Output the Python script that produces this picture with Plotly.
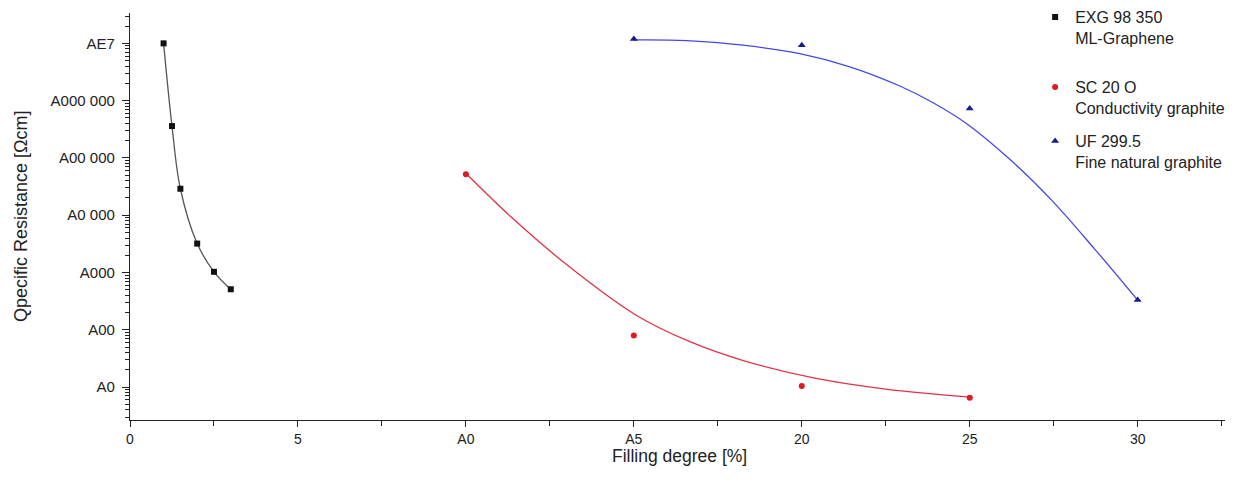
import plotly.graph_objects as go

# ---- data ----
exg_x = [1.0, 1.25, 1.5, 2.0, 2.5, 3.0]
exg_y = [1.0e7, 3.6e5, 2.9e4, 3.2e3, 1.03e3, 5.1e2]

sc_x = [10, 15, 20, 25]
sc_y = [5.2e4, 80, 10.5, 6.5]
sc_fit_x = [10.02, 11.35, 12.95, 15.07, 16.67, 18.26, 20.39, 22.5, 25.09]
sc_fit_y = [5.25e4, 9.3e3, 1.45e3, 1.8e2, 62, 29, 14.3, 9.2, 6.6]

uf_x = [15, 20, 25, 30]
uf_y = [1.19e7, 9.3e6, 7.3e5, 3.3e2]
uf_fit_x = [15.0, 16.57, 18.25, 19.94, 21.43, 22.92, 23.91, 24.9, 26.2, 27.45, 28.72, 30.0]
uf_fit_y = [1.15e7, 1.12e7, 9.3e6, 6.6e6, 3.9e6, 1.8e6, 9.2e5, 4.0e5, 9.4e4, 1.8e4, 2.57e3, 3.3e2]

x_tickvals = [0, 5, 10, 15, 20, 25, 30]
x_ticktext = ["0", "5", "A0", "A5", "20", "25", "30"]
x_minor_vals = [2.5, 7.5, 12.5, 17.5, 22.5, 27.5, 32.5]
y_tickvals = [10, 100, 1000, 1e4, 1e5, 1e6, 1e7]
y_ticktext = ["A0", "A00", "A000", "A0 000", "A00 000", "A000 000", "AE7"]
y_minor_vals = [m * d for d in [1, 10, 100, 1000, 1e4, 1e5, 1e6, 1e7] for m in range(2, 10)]

names = ["EXG 98 350<br>ML-Graphene",
         "SC 20 O<br>Conductivity graphite",
         "UF 299.5<br>Fine natural graphite"]

BLACK = "#111111"
RED_M = "rgb(225,25,35)"
RED_L = "rgb(225,50,70)"
BLUE_M = "rgb(25,25,150)"
BLUE_L = "rgb(70,70,235)"
TXT = "#222222"

fig = go.Figure()

# fit curves
fig.add_trace(go.Scatter(x=exg_x, y=exg_y, mode="lines", line=dict(color="#555555", width=1.3, shape="spline"),
                         showlegend=False, hoverinfo="skip"))
fig.add_trace(go.Scatter(x=sc_fit_x, y=sc_fit_y, mode="lines", line=dict(color=RED_L, width=1.3, shape="spline"),
                         showlegend=False, hoverinfo="skip"))
fig.add_trace(go.Scatter(x=uf_fit_x, y=uf_fit_y, mode="lines", line=dict(color=BLUE_L, width=1.3, shape="spline"),
                         showlegend=False, hoverinfo="skip"))

# data points
fig.add_trace(go.Scatter(x=exg_x, y=exg_y, mode="markers", name=names[0], legend="legend",
                         marker=dict(symbol="square", size=6, color=BLACK)))
fig.add_trace(go.Scatter(x=sc_x, y=sc_y, mode="markers", name=names[1], legend="legend2",
                         marker=dict(symbol="circle", size=6, color=RED_M)))
fig.add_trace(go.Scatter(x=uf_x, y=uf_y, mode="markers", name=names[2], legend="legend3",
                         marker=dict(symbol="triangle-up", size=7, color=BLUE_M)))

leg_common = dict(xanchor="left", yanchor="top", bgcolor="rgba(0,0,0,0)",
                  font=dict(size=16, color=TXT, family="Liberation Sans, Arial, sans-serif"),
                  valign="top", itemwidth=30)

# plot area: x 130..1225, y 13..420 in the window (page body adds 8px offset)
fig.update_layout(
    width=1235, height=478,
    margin=dict(l=122, r=18, t=5, b=66, autoexpand=False),
    paper_bgcolor="white", plot_bgcolor="white",
    font=dict(family="Liberation Sans, Arial, sans-serif", color=TXT, size=14),
    legend=dict(x=0.8266, y=1.032, **leg_common),
    legend2=dict(x=0.8266, y=0.860, **leg_common),
    legend3=dict(x=0.8266, y=0.727, **leg_common),
    xaxis=dict(range=[0, 32.6], tickvals=x_tickvals, ticktext=x_ticktext,
               showgrid=False, zeroline=False, showline=True, linecolor=TXT, linewidth=1.3,
               ticks="outside", ticklen=6, tickcolor=TXT,
               minor=dict(tickvals=x_minor_vals, ticks="outside", ticklen=5,
                          tickcolor=TXT, showgrid=False),
               tickfont=dict(size=14)),
    yaxis=dict(type="log", range=[0.426, 7.53], tickvals=y_tickvals, ticktext=y_ticktext,
               showgrid=False, zeroline=False, showline=True, linecolor=TXT, linewidth=1.3,
               ticks="outside", ticklen=7, tickcolor=TXT, ticklabelstandoff=4,
               minor=dict(tickvals=y_minor_vals, ticks="outside", ticklen=4, tickcolor=TXT, showgrid=False),
               tickfont=dict(size=15)),
    annotations=[
        dict(text="Filling degree [%]", xref="paper", yref="paper", x=0.502, y=-0.0885,
             xanchor="center", yanchor="middle", showarrow=False, font=dict(size=17.5, color=TXT)),
        dict(text="Qpecific Resistance [Ωcm]", xref="paper", yref="paper", x=-0.1, y=0.5,
             xanchor="center", yanchor="middle", textangle=-90, showarrow=False,
             font=dict(size=18, color=TXT)),
    ],
)

fig.write_html("out.html")
